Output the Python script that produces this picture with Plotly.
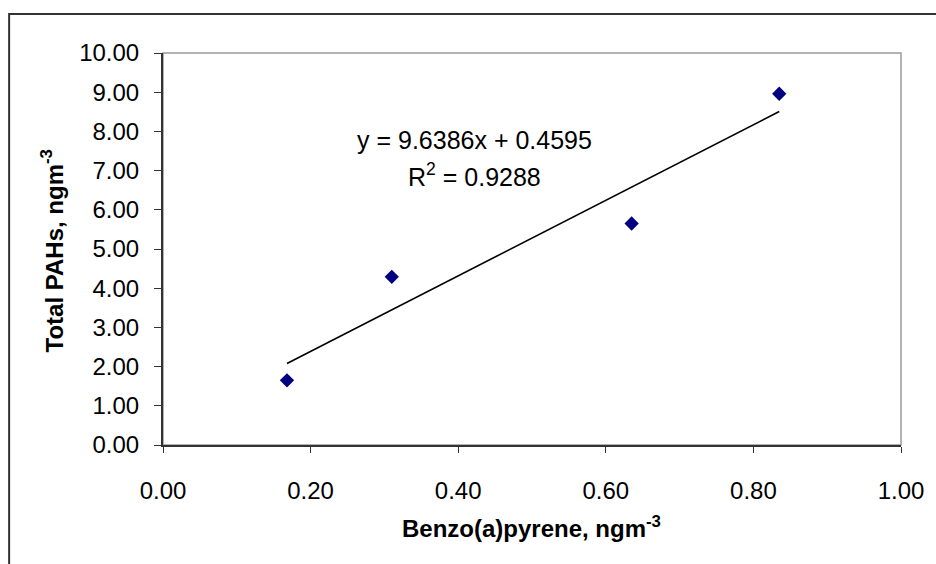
import plotly.graph_objects as go

# Data
bap = [0.168, 0.310, 0.635, 0.835]          # Benzo(a)pyrene, ngm-3
total_pahs = [1.65, 4.29, 5.65, 8.96]       # Total PAHs, ngm-3
slope = 9.6386
intercept = 0.4595
r2 = 0.9288
x_ticks = [0.0, 0.2, 0.4, 0.6, 0.8, 1.0]
y_ticks = list(range(0, 11))

W, H = 936, 564
L, R, T, B = 163, 904, 53, 445
pw, ph = R - L, B - T

def px(x):
    return (x - L) / pw

def py(y):
    return (B - y) / ph

trend_x = [min(bap), max(bap)]
trend_y = [slope * v + intercept for v in trend_x]

FONT = "Liberation Sans, Arial, sans-serif"

fig = go.Figure()
fig.add_trace(go.Scatter(x=trend_x, y=trend_y, mode="lines",
                         line=dict(color="black", width=1.6),
                         showlegend=False, hoverinfo="skip"))
fig.add_trace(go.Scatter(x=bap, y=total_pahs, mode="markers",
                         marker=dict(symbol="diamond", size=11, color="#000080",
                                     line=dict(width=0)),
                         showlegend=False))

fig.update_layout(
    width=W, height=H,
    margin=dict(l=L, r=W - R, t=T, b=H - B, pad=0),
    paper_bgcolor="white", plot_bgcolor="white",
    font=dict(family=FONT, size=24, color="black"),
    xaxis=dict(range=[0, 1], tickvals=x_ticks,
               ticktext=[f"{v:.2f}" for v in x_ticks],
               tickfont=dict(family=FONT, size=24, color="black"),
               showgrid=False, zeroline=False,
               showline=True, linecolor="#333333", linewidth=2,
               ticks="outside", ticklen=6, tickwidth=1.2, tickcolor="#333333",
               ticklabelstandoff=17),
    yaxis=dict(range=[0, 10], tickvals=y_ticks,
               ticktext=[f"{v:.2f}" for v in y_ticks],
               tickfont=dict(family=FONT, size=24, color="black"),
               showgrid=False, zeroline=False,
               showline=True, linecolor="#333333", linewidth=2,
               ticks="outside", ticklen=7, tickwidth=1.2, tickcolor="#333333",
               ticklabelstandoff=10),
    shapes=[
        dict(type="rect", xref="paper", yref="paper", x0=0, y0=0, x1=1, y1=1,
             line=dict(color="#999999", width=1.5), layer="below"),
        dict(type="rect", xref="paper", yref="paper",
             x0=px(8.5), y0=py(H + 10), x1=px(W + 10), y1=py(14),
             line=dict(color="#333333", width=2), layer="below"),
    ],
    annotations=[
        dict(text=f"y = {slope}x + {intercept}", xref="paper", yref="paper",
             x=px(476), y=py(140), showarrow=False,
             font=dict(family=FONT, size=25, color="black"),
             xanchor="center", yanchor="middle"),
        dict(text=f"R<sup>2</sup> = {r2}", xref="paper", yref="paper",
             x=px(476), y=py(175), showarrow=False,
             font=dict(family=FONT, size=25, color="black"),
             xanchor="center", yanchor="middle"),
        dict(text="<b>Benzo(a)pyrene, ngm<sup>-3</sup></b>", xref="paper", yref="paper",
             x=px(533), y=py(527), showarrow=False,
             font=dict(family=FONT, size=24, color="black"),
             xanchor="center", yanchor="middle"),
        dict(text="<b>Total PAHs, ngm<sup>-3</sup></b>", xref="paper", yref="paper",
             x=px(52), y=py(251), showarrow=False,
             font=dict(family=FONT, size=24, color="black"),
             textangle=-90, xanchor="center", yanchor="middle"),
    ],
)

fig.write_html("out.html")
